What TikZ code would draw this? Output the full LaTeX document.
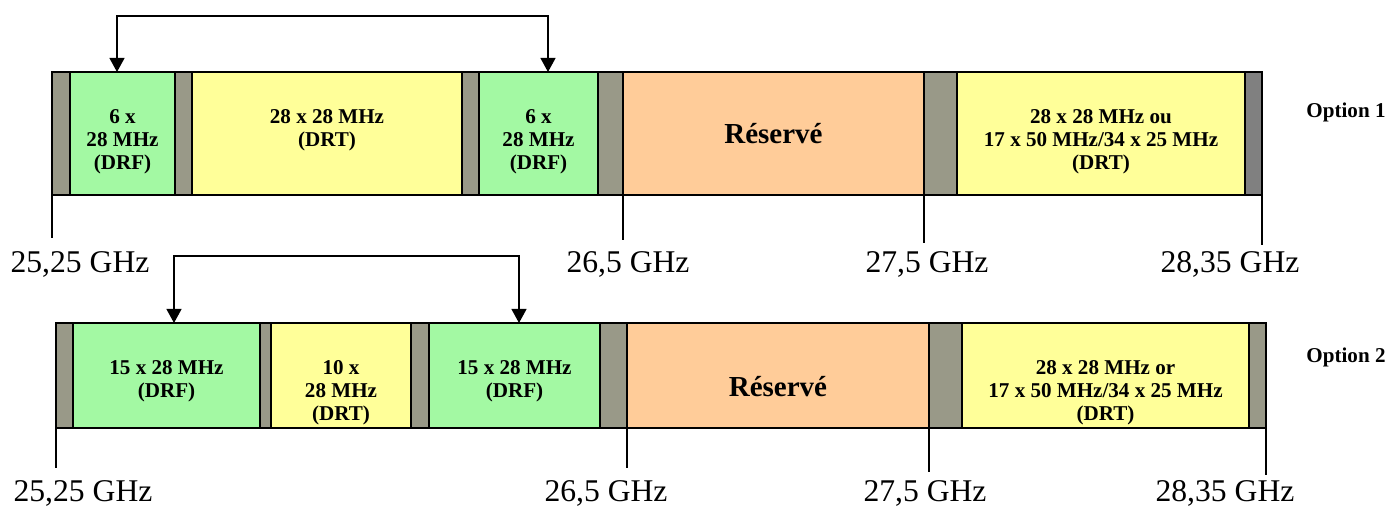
\documentclass[tikz,border=0pt]{standalone}
\usepackage{fontspec}
\setmainfont{Liberation Serif}
\usetikzlibrary{arrows.meta}

\definecolor{gris}{RGB}{153,153,136}
\definecolor{grisfonce}{RGB}{128,128,128}
\definecolor{vert}{RGB}{163,249,163}
\definecolor{jaune}{RGB}{255,255,153}
\definecolor{orange}{RGB}{255,204,153}

% band: name, x0, x1, y0, y1, style
\newcommand{\band}[6]{%
  \node[#6, minimum width={(#3-#2)*0.02cm}, minimum height={(#5-#4)*0.02cm}] (#1) at ({(#2+#3)/2},{(#4+#5)/2}) {};}

\tikzset{
  seg/.style={draw=black, line width=0.8pt, inner sep=0pt, outer sep=0pt},
  garde/.style={seg, fill=gris},
  gardefonce/.style={seg, fill=grisfonce},
  drf/.style={seg, fill=vert},
  drt/.style={seg, fill=jaune},
  res/.style={seg, fill=orange},
  txt/.style={anchor=north, inner sep=0pt, align=center, yshift=-0.7cm,
    font=\fontsize{12}{13}\selectfont\bfseries},
  grand/.style={inner sep=0pt, font=\fontsize{16.5}{18}\selectfont\bfseries},
  freq/.style={font=\fontsize{18}{20}\selectfont},
  opt/.style={font=\fontsize{12}{13}\selectfont\bfseries},
  lien/.style={line width=0.9pt, {Triangle[width=8.5pt,length=8pt]}-{Triangle[width=8.5pt,length=8pt]}},
  tick/.style={line width=0.6pt}
}

\begin{document}
\begin{tikzpicture}[x=0.02cm, y=-0.02cm]
  \useasboundingbox (0,0) rectangle (1387,508);

  % option 1
  \band{s1a}{52}{70}{72}{195}{garde}
  \band{g1a}{70}{175}{72}{195}{drf}
  \band{s1b}{175}{192}{72}{195}{garde}
  \band{y1a}{192}{462}{72}{195}{drt}
  \band{s1c}{462}{479}{72}{195}{garde}
  \band{g1b}{479}{598}{72}{195}{drf}
  \band{s1d}{598}{623}{72}{195}{garde}
  \band{r1}{623}{924}{72}{195}{res}
  \band{s1e}{924}{957}{72}{195}{garde}
  \band{y1b}{957}{1245}{72}{195}{drt}
  \band{s1f}{1245}{1262}{72}{195}{gardefonce}
  \node[txt] (g1a-t) at (g1a.north) {\strut 6 x\\28 MHz\\(DRF)};
  \node[txt] (y1a-t) at (y1a.north) {\strut 28 x 28 MHz\\(DRT)};
  \node[txt] (g1b-t) at (g1b.north) {\strut 6 x\\28 MHz\\(DRF)};
  \node[grand] (r1-t) at (r1.center) {Réservé};
  \node[txt] (y1b-t) at (y1b.north) {\strut 28 x 28 MHz ou\\17 x 50 MHz/34 x 25 MHz\\(DRT)};
  \node[opt] (o1) at (1346,112) {Option 1};

  \coordinate (a1) at (117,72);
  \coordinate (b1) at (548,72);
  \draw[lien] (a1) -- ++(0,-56) -| (b1);

  \draw[tick] (s1a.south west) -- ++(0,43);
  \draw[tick] (r1.south west) -- ++(0,45);
  \draw[tick] (s1e.south west) -- ++(0,48);
  \draw[tick] (s1f.south east) -- ++(0,50);
  \node[freq] (f1a) at (80,264) {25,25 GHz};
  \node[freq] (f1b) at (628,264) {26,5 GHz};
  \node[freq] (f1c) at (927,264) {27,5 GHz};
  \node[freq] (f1d) at (1230,264) {28,35 GHz};

  % option 2
  \band{s2a}{56}{73}{323}{428}{garde}
  \band{g2a}{73}{260}{323}{428}{drf}
  \band{s2b}{260}{271}{323}{428}{garde}
  \band{y2a}{271}{411}{323}{428}{drt}
  \band{s2c}{411}{429}{323}{428}{garde}
  \band{g2b}{429}{600}{323}{428}{drf}
  \band{s2d}{600}{627}{323}{428}{garde}
  \band{r2}{627}{929}{323}{428}{res}
  \band{s2e}{929}{962}{323}{428}{garde}
  \band{y2b}{962}{1249}{323}{428}{drt}
  \band{s2f}{1249}{1266}{323}{428}{garde}
  \node[txt] (g2a-t) at (g2a.north) {\strut 15 x 28 MHz\\(DRF)};
  \node[txt] (y2a-t) at (y2a.north) {\strut 10 x\\28 MHz\\(DRT)};
  \node[txt] (g2b-t) at (g2b.north) {\strut 15 x 28 MHz\\(DRF)};
  \node[grand] (r2-t) at ([yshift=-0.22cm]r2.center) {Réservé};
  \node[txt] (y2b-t) at (y2b.north) {\strut 28 x 28 MHz or\\17 x 50 MHz/34 x 25 MHz\\(DRT)};
  \node[opt] (o2) at (1346,357) {Option 2};

  \coordinate (a2) at (174,323);
  \coordinate (b2) at (519,323);
  \draw[lien] (a2) -- ++(0,-67) -| (b2);

  \draw[tick] (s2a.south west) -- ++(0,40);
  \draw[tick] (r2.south west) -- ++(0,40);
  \draw[tick] (s2e.south west) -- ++(0,44);
  \draw[tick] (s2f.south east) -- ++(0,47);
  \node[freq] (f2a) at (83,493) {25,25 GHz};
  \node[freq] (f2b) at (606,493) {26,5 GHz};
  \node[freq] (f2c) at (925,493) {27,5 GHz};
  \node[freq] (f2d) at (1225,493) {28,35 GHz};
\end{tikzpicture}
\end{document}
